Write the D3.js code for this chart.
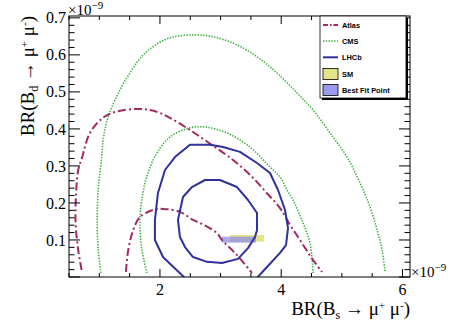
<!DOCTYPE html>
<html>
<head>
<meta charset="utf-8">
<script src="https://cdn.jsdelivr.net/npm/d3@7"></script>
<style>
  body { margin: 0; background: #fff; }
  svg { display: block; }
</style>
</head>
<body>
<script>
// contour points, x = BR(Bs) [1e-9], y = BR(Bd) [1e-9]
const atlasOuter = [[0.708,0.019],[0.652,0.073],[0.609,0.146],[0.614,0.216],[0.652,0.289],[0.718,0.324],
  [0.845,0.389],[1.059,0.430],[1.285,0.447],[1.615,0.454],[1.835,0.451],[2.0,0.443],[2.165,0.430],
  [2.495,0.397],[2.853,0.357],[3.205,0.316],[3.485,0.276],[3.761,0.227],[3.980,0.186],[4.145,0.141],
  [4.310,0.100],[4.49,0.054],[4.673,0.0135]];
const atlasInner = [[1.439,0.014],[1.477,0.073],[1.559,0.127],[1.670,0.162],[1.884,0.181],[2.050,0.184],
  [2.330,0.176],[2.545,0.154],[2.660,0.146],[2.936,0.119],[3.023,0.100],[3.271,0.059],[3.518,0.011]];
const cmsOuter = [[1.026,0.011],[0.982,0.073],[0.965,0.146],[0.982,0.235],[1.038,0.324],[1.076,0.384],
  [1.158,0.438],[1.340,0.505],[1.505,0.551],[1.670,0.590],[1.884,0.622],[2.165,0.646],[2.545,0.654],
  [2.875,0.649],[3.271,0.627],[3.601,0.595],[3.931,0.551],[4.261,0.497],[4.525,0.451],[4.855,0.378],
  [5.086,0.324],[5.300,0.254],[5.465,0.189],[5.581,0.127],[5.663,0.073],[5.713,0.0135]];
const cmsInner = [[1.785,0.011],[1.703,0.073],[1.670,0.154],[1.719,0.227],[1.802,0.281],[1.950,0.335],
  [2.165,0.378],[2.495,0.403],[2.743,0.405],[3.106,0.389],[3.485,0.351],[3.815,0.297],[3.980,0.270],
  [4.096,0.235],[4.195,0.208],[4.360,0.146],[4.475,0.092],[4.525,0.011]];
const lhcbOuter = [[2.446,-0.008],[2.050,0.054],[1.917,0.100],[1.917,0.154],[1.967,0.227],[2.083,0.289],
  [2.248,0.324],[2.495,0.357],[2.825,0.357],[3.040,0.351],[3.320,0.338],[3.601,0.308],[3.815,0.281],
  [3.947,0.235],[4.063,0.181],[4.112,0.132],[4.079,0.086],[3.980,0.065],[3.766,0.027],[3.568,-0.008]];
const lhcbInner = [[2.297,0.154],[2.380,0.216],[2.528,0.243],[2.743,0.262],[2.990,0.262],[3.271,0.243],
  [3.452,0.208],[3.601,0.173],[3.601,0.127],[3.568,0.108],[3.452,0.078],[3.287,0.049],[3.023,0.038],
  [2.776,0.041],[2.545,0.054],[2.413,0.081],[2.330,0.108],[2.297,0.154]];
// boxes [x0, x1, y0, y1]
const smBox = [3.155, 3.716, 0.0954, 0.1135];
const bestFitBox = [3.018, 3.584, 0.0927, 0.109];

const xTickLabels = [2, 4, 6];
const yTickLabels = [0.1, 0.2, 0.3, 0.4, 0.5, 0.6, 0.7];
const legendLabels = ["Atlas", "CMS", "LHCb", "SM", "Best Fit Point"];

const W = 457, H = 329;
const L = 69, R = 410, T = 16, B = 277;
const atlasColor = "#a02a62", cmsColor = "#3db03d", lhcbColor = "#30309e";

const svg = d3.select("body").append("svg").attr("width", W).attr("height", H);

const x = d3.scaleLinear().domain([0.5, 6.124]).range([L, R]);
const y = d3.scaleLinear().domain([0, 0.705]).range([B, T]);

svg.append("clipPath").attr("id", "plot")
  .append("rect").attr("x", L).attr("y", T).attr("width", R - L).attr("height", B - T);

const plot = svg.append("g").attr("clip-path", "url(#plot)");

const smooth = d3.line().x(d => x(d[0])).y(d => y(d[1])).curve(d3.curveCatmullRom);
const straight = d3.line().x(d => x(d[0])).y(d => y(d[1]));

function box(b, fill, op) {
  plot.append("rect")
    .attr("x", x(b[0])).attr("width", x(b[1]) - x(b[0]))
    .attr("y", y(b[3])).attr("height", y(b[2]) - y(b[3]))
    .attr("fill", fill).attr("fill-opacity", op);
}
box(smBox, "#e3e38a", 1);
box(bestFitBox, "#8f8fe6", 0.75);

[cmsOuter, cmsInner].forEach(c => plot.append("path").attr("d", smooth(c))
  .attr("fill", "none").attr("stroke", cmsColor).attr("stroke-width", 1.6)
  .attr("stroke-dasharray", "1.4,1.4"));
[atlasOuter, atlasInner].forEach(c => plot.append("path").attr("d", smooth(c))
  .attr("fill", "none").attr("stroke", atlasColor).attr("stroke-width", 2)
  .attr("stroke-dasharray", "8,3,2,3"));
[lhcbOuter, lhcbInner].forEach(c => plot.append("path").attr("d", straight(c))
  .attr("fill", "none").attr("stroke", lhcbColor).attr("stroke-width", 2)
  .attr("stroke-linejoin", "round"));

// frame + ticks
const ax = svg.append("g").attr("stroke", "#000").attr("stroke-width", 1);
ax.append("rect").attr("x", L).attr("y", T).attr("width", R - L).attr("height", B - T)
  .attr("fill", "none");

d3.range(0.5, 6.01, 0.5).forEach(v => {
  const len = xTickLabels.includes(v) ? 8 : 4;
  ax.append("line").attr("x1", x(v)).attr("x2", x(v)).attr("y1", B).attr("y2", B - len);
  ax.append("line").attr("x1", x(v)).attr("x2", x(v)).attr("y1", T).attr("y2", T + len);
});
d3.range(0, 71, 2).forEach(i => {
  const v = i / 100;
  const len = i % 10 === 0 ? 11 : 5.5;
  ax.append("line").attr("x1", L).attr("x2", L + len).attr("y1", y(v)).attr("y2", y(v));
  ax.append("line").attr("x1", R).attr("x2", R - len).attr("y1", y(v)).attr("y2", y(v));
});

const serif = "Liberation Serif, Times New Roman, serif";
svg.selectAll(".xl").data(xTickLabels).join("text")
  .attr("x", d => x(d)).attr("y", 295).attr("text-anchor", "middle")
  .attr("font-family", serif).attr("font-size", 16).text(d => d);
svg.selectAll(".yl").data(yTickLabels).join("text")
  .attr("x", 66).attr("y", d => y(d)).attr("dy", "0.35em").attr("text-anchor", "end")
  .attr("font-family", serif).attr("font-size", 16).text(d => d.toFixed(1));

function expo(px, py) {
  const t = svg.append("text").attr("x", px).attr("y", py)
    .attr("font-family", serif).attr("font-size", 15);
  t.append("tspan").text("×10");
  t.append("tspan").attr("dy", -6).attr("font-size", 11).text("−9");
}
expo(68, 15);
expo(411, 277);

function title(t, sub) {
  t.append("tspan").text("BR(B");
  t.append("tspan").attr("dy", 4).attr("font-size", 12).text(sub);
  t.append("tspan").attr("dy", -4).text(" → μ");
  t.append("tspan").attr("dy", -6).attr("font-size", 11).text("+");
  t.append("tspan").attr("dy", 6).text(" μ");
  t.append("tspan").attr("dy", -6).attr("font-size", 11).text("-");
  t.append("tspan").attr("dy", 6).text(")");
}
title(svg.append("text").attr("x", 410).attr("y", 315).attr("text-anchor", "end")
  .attr("font-family", serif).attr("font-size", 19), "s");
title(svg.append("text").attr("transform", "translate(34,16) rotate(-90)").attr("text-anchor", "end")
  .attr("font-family", serif).attr("font-size", 19), "d");

// legend
const lg = svg.append("g");
lg.append("rect").attr("x", 322).attr("y", 18).attr("width", 86).attr("height", 82).attr("fill", "#000");
lg.append("rect").attr("x", 320).attr("y", 16).attr("width", 86).attr("height", 82)
  .attr("fill", "#fff").attr("stroke", "#000").attr("stroke-width", 0.8);
const rowY = [25, 41, 57.3, 74, 90];
const lineStyles = [
  { c: atlasColor, w: 2, dash: "5,2,1.5,2" },
  { c: cmsColor, w: 1.6, dash: "1.4,1.4" },
  { c: lhcbColor, w: 2, dash: null }
];
lineStyles.forEach((s, i) => {
  lg.append("line").attr("x1", 323).attr("x2", 338).attr("y1", rowY[i]).attr("y2", rowY[i])
    .attr("stroke", s.c).attr("stroke-width", s.w).attr("stroke-dasharray", s.dash);
});
[["#e3e38a"], ["#9a9aee"]].forEach((f, i) => {
  lg.append("rect").attr("x", 323).attr("y", rowY[3 + i] - 5.5).attr("width", 15).attr("height", 11)
    .attr("fill", f[0]).attr("stroke", "#000").attr("stroke-width", 0.8);
});
lg.selectAll("text").data(legendLabels).join("text")
  .attr("x", 342).attr("y", (d, i) => rowY[i]).attr("dy", "0.35em")
  .attr("font-family", "Liberation Sans, Arial, sans-serif").attr("font-weight", "bold")
  .attr("font-size", 7.4).text(d => d);
</script>
</body>
</html>
